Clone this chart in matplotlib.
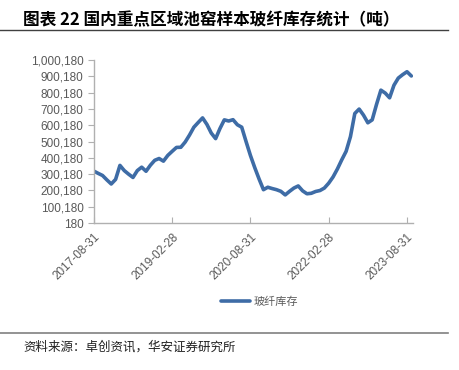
import matplotlib
matplotlib.use('Agg')
import matplotlib.pyplot as plt
import numpy as np
import pandas as pd
from matplotlib.ticker import FuncFormatter

plt.rcParams['font.family'] = ['Liberation Sans', 'Noto Sans CJK SC', 'DejaVu Sans']

# 月度数据：2017-08 至 2023-09（吨）
dates = pd.date_range('2017-08-31', periods=74, freq='ME')
stock = [319000, 305000, 292000, 265000, 240000, 268000, 354000, 322000, 300000, 280000,
         322000, 343000, 318000, 355000, 385000, 396000, 380000, 415000, 440000, 464000,
         465000, 497000, 540000, 588000, 617000, 645000, 605000, 552000, 518000, 580000,
         633000, 626000, 634000, 603000, 588000, 500000, 415000, 340000, 270000, 205000,
         220000, 212000, 205000, 195000, 173000, 195000, 215000, 228000, 198000, 180000,
         183000, 194000, 200000, 215000, 245000, 283000, 332000, 388000, 440000, 530000,
         672000, 699000, 662000, 615000, 633000, 728000, 815000, 797000, 768000, 845000,
         889000, 910000, 928000, 902000]
tick_idx = [0, 18, 36, 54, 72]
yticks = np.arange(180, 1000181, 100000)

title = '图表 22 国内重点区域池窑样本玻纤库存统计（吨）'
source = '资料来源：卓创资讯，华安证券研究所'
series_name = '玻纤库存'

fig = plt.figure(figsize=(4.6, 3.7), dpi=100)
ax = fig.add_axes([0.204, 0.397, 0.694, 0.441])

x = np.arange(len(stock))
ax.plot(x, stock, color='#3E6CA6', lw=2.6, solid_capstyle='round', label=series_name)

ax.set_xlim(0, 73.4)
ax.set_ylim(180, 1000180)
ax.set_yticks(yticks)
ax.yaxis.set_major_formatter(FuncFormatter(lambda v, p: '{:,.0f}'.format(v)))
ax.set_xticks(tick_idx)
ax.set_xticklabels([dates[i].strftime('%Y-%m-%d') for i in tick_idx],
                   rotation=45, ha='right', rotation_mode='anchor')

for s in ['top', 'right']:
    ax.spines[s].set_visible(False)
for s in ['left', 'bottom']:
    ax.spines[s].set_color('#B0B0B0')
    ax.spines[s].set_linewidth(1.0)
ax.tick_params(axis='y', colors='#B0B0B0', labelcolor='#595959', labelsize=8.5, length=4, direction='out')
ax.tick_params(axis='x', colors='#B0B0B0', labelcolor='#595959', labelsize=8.5, length=4,
               direction='in', pad=6)

leg = ax.legend(loc='upper center', bbox_to_anchor=(0.52, -0.39), frameon=False,
                handlelength=2.6, handletextpad=0.3, prop={'family': 'Noto Sans CJK SC', 'size': 8})
for t in leg.get_texts():
    t.set_color('#595959')

fig.text(0.05, 0.946, title, fontsize=12, fontweight='bold', va='center', ha='left',
         family=['Noto Sans CJK SC', 'DejaVu Sans'])
fig.add_artist(plt.Line2D([0, 0.975], [0.919, 0.919], color='#404040', lw=1.0))
fig.add_artist(plt.Line2D([0, 0.975], [0.10, 0.10], color='#808080', lw=1.2))
fig.text(0.05, 0.062, source, fontsize=9, va='center', ha='left',
         family=['Noto Sans CJK SC', 'DejaVu Sans'], color='#202020')

fig.savefig('out.png', dpi=100)
